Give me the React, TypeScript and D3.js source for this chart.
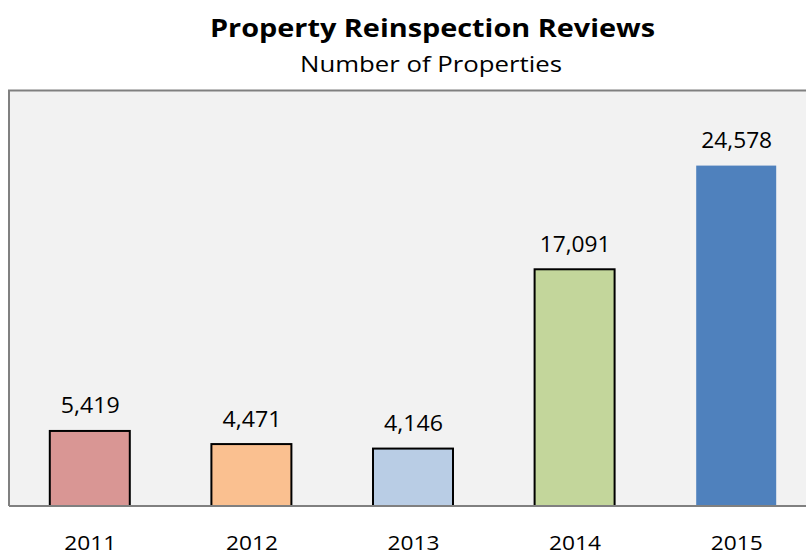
import React from "react";
import * as d3 from "d3";

const years = ["2011", "2012", "2013", "2014", "2015"];
const values = [5419, 4471, 4146, 17091, 24578];
const colors = ["#d99694", "#fac090", "#b9cde5", "#c3d69b", "#4f81bd"];
const strokes = ["#000", "#000", "#000", "#000", "none"];

const W = 806, H = 555;
const plotLeft = 9, plotRight = 817, plotTop = 90.5, plotBottom = 506;
const FONT = "'Open Sans', sans-serif";

export default function App() {
  const x = d3.scaleBand<string>().domain(years).range([plotLeft, plotRight]).paddingInner(0.505).paddingOuter(0.2525);
  const y = d3.scaleLinear().domain([0, 30000]).range([plotBottom, plotTop]);
  const fmt = d3.format(",");
  return (
    <svg width={W} height={H} style={{ position: "absolute", left: 0, top: 0, background: "#fff" }}>
      <rect x={plotLeft} y={plotTop} width={plotRight - plotLeft} height={plotBottom - plotTop} fill="#f2f2f2" />
      {years.map((yr, i) => {
        const label = fmt(values[i]);
        return (
          <g key={yr}>
            <rect x={x(yr)!} y={y(values[i])} width={x.bandwidth()} height={plotBottom - y(values[i])}
              fill={colors[i]} stroke={strokes[i]} strokeWidth={2} />
            <text x={x(yr)! + x.bandwidth() / 2 + 0.5} y={y(values[i]) - 17.5} textAnchor="middle"
              fontFamily={FONT} fontSize={21.5} textLength={label.length * 11.8} lengthAdjust="spacingAndGlyphs"
              fill="#000">{label}</text>
            <text x={x(yr)! + x.bandwidth() / 2 + 0.5} y={549.5} textAnchor="middle"
              fontFamily={FONT} fontSize={20} textLength={52} lengthAdjust="spacingAndGlyphs" fill="#000">{yr}</text>
          </g>
        );
      })}
      <path d={`M${plotLeft},${plotBottom} V${plotTop} H${plotRight}`} fill="none" stroke="#808080" strokeWidth={2} />
      <line x1={plotLeft} x2={plotRight} y1={plotBottom} y2={plotBottom} stroke="#808080" strokeWidth={2} />
      <text x={432.5} y={37} textAnchor="middle" fontFamily={FONT} fontWeight="bold" fontSize={25}
        textLength={445} lengthAdjust="spacingAndGlyphs" fill="#000">Property Reinspection Reviews</text>
      <text x={431} y={71.5} textAnchor="middle" fontFamily={FONT} fontSize={22.5}
        textLength={262} lengthAdjust="spacingAndGlyphs" fill="#000">Number of Properties</text>
    </svg>
  );
}
